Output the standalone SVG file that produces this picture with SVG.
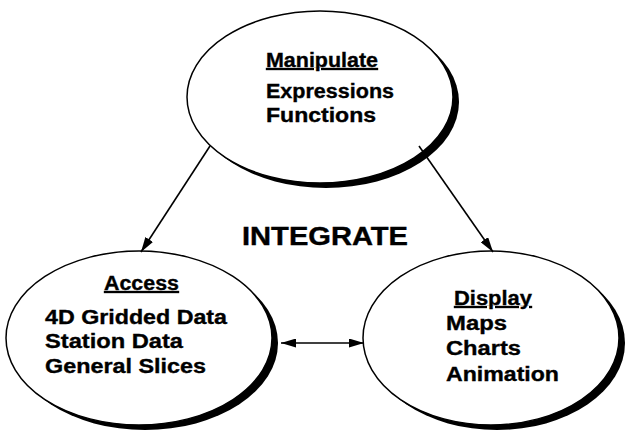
<svg xmlns="http://www.w3.org/2000/svg" width="626" height="431" viewBox="0 0 626 431">
  <defs>
    <style>
      .shadow { fill: #000; }
      .body { fill: #fff; stroke: #000; stroke-width: 1.5; }
      .t { font-family: "Liberation Sans", Arial, sans-serif; font-weight: bold; font-size: 20px; fill: #000; stroke: #000; stroke-width: 0.35; }
      .h { text-decoration: underline; }
      .big { font-family: "Liberation Sans", Arial, sans-serif; font-weight: bold; font-size: 26px; fill: #000; stroke: #000; stroke-width: 0.4; }
      .edge { stroke: #000; stroke-width: 1.6; fill: none; }
    </style>
    <marker id="arr" viewBox="0 0 15 9" refX="15" refY="4.5" markerWidth="15" markerHeight="9" markerUnits="userSpaceOnUse" orient="auto-start-reverse">
      <path d="M0,0 L15,4.5 L0,9 Z" fill="#000"/>
    </marker>
  </defs>
  <rect width="626" height="431" fill="#fff"/>

  <g id="manipulate">
    <ellipse class="shadow" cx="326" cy="102" rx="133" ry="86"/>
    <ellipse class="body" cx="320" cy="97" rx="133" ry="86"/>
    <text class="t h" x="266" y="67" textLength="112" lengthAdjust="spacingAndGlyphs">Manipulate</text>
    <text class="t" x="266" y="98" textLength="128" lengthAdjust="spacingAndGlyphs">Expressions</text>
    <text class="t" x="266" y="122" textLength="110" lengthAdjust="spacingAndGlyphs">Functions</text>
  </g>

  <g id="access">
    <ellipse class="shadow" cx="145" cy="343" rx="133" ry="87"/>
    <ellipse class="body" cx="139" cy="338" rx="133" ry="87"/>
    <text class="t h" x="104" y="290" textLength="75" lengthAdjust="spacingAndGlyphs">Access</text>
    <text class="t" x="45" y="324" textLength="182" lengthAdjust="spacingAndGlyphs">4D Gridded Data</text>
    <text class="t" x="45" y="348" textLength="138" lengthAdjust="spacingAndGlyphs">Station Data</text>
    <text class="t" x="45" y="373" textLength="161" lengthAdjust="spacingAndGlyphs">General Slices</text>
  </g>

  <g id="display">
    <ellipse class="shadow" cx="497" cy="343" rx="128" ry="87"/>
    <ellipse class="body" cx="491" cy="338" rx="128" ry="87"/>
    <text class="t h" x="454" y="305" textLength="78" lengthAdjust="spacingAndGlyphs">Display</text>
    <text class="t" x="446" y="330" textLength="61" lengthAdjust="spacingAndGlyphs">Maps</text>
    <text class="t" x="446" y="355" textLength="75" lengthAdjust="spacingAndGlyphs">Charts</text>
    <text class="t" x="446" y="381" textLength="113" lengthAdjust="spacingAndGlyphs">Animation</text>
  </g>

  <g id="label">
    <text class="big" x="242" y="245" textLength="166" lengthAdjust="spacingAndGlyphs">INTEGRATE</text>
  </g>

  <g id="connectors">
    <line class="edge" x1="210" y1="146" x2="141" y2="252" marker-end="url(#arr)"/>
    <line class="edge" x1="419" y1="146" x2="493" y2="252" marker-end="url(#arr)"/>
    <line class="edge" x1="281" y1="343" x2="364" y2="343" marker-start="url(#arr)" marker-end="url(#arr)"/>
  </g>
</svg>
